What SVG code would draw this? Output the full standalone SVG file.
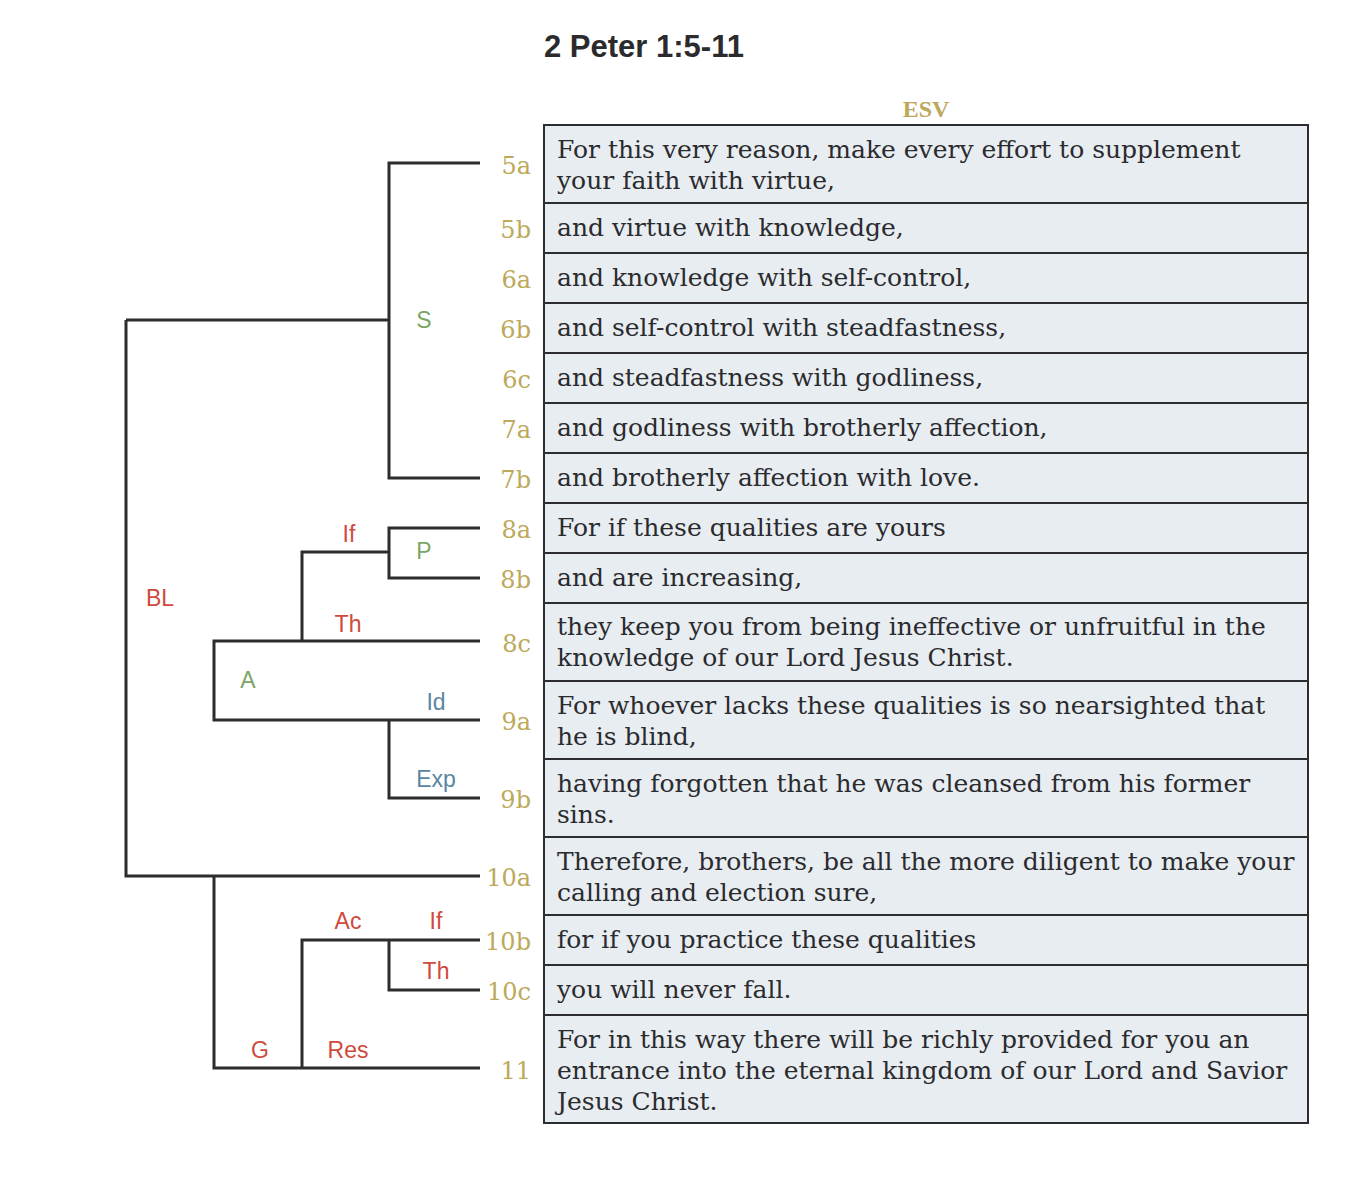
<svg xmlns="http://www.w3.org/2000/svg" width="1370" height="1204" viewBox="0 0 1370 1204">
<style>
.title{font-family:"Liberation Sans",Arial,sans-serif;font-weight:bold;font-size:31px;fill:#2b2b2e}
.esv{font-family:"Liberation Serif","Times New Roman",serif;font-weight:bold;font-size:24px;fill:#bca95b;text-anchor:middle}
.row{fill:#e8edf1;stroke:#2d2d30;stroke-width:2}
.txt{font-family:"DejaVu Serif",Georgia,serif;font-size:25px;fill:#2b2b2e}
.vl{font-family:"DejaVu Serif",Georgia,serif;font-size:24px;fill:#bca95b;text-anchor:end}
.lb{font-family:"Liberation Sans",Arial,sans-serif;font-size:23px;text-anchor:middle}
.r{fill:#cf4a3c}.g{fill:#7ba564}.b{fill:#5a86a2}
.con path{fill:none;stroke:#2d2d30;stroke-width:3;stroke-linejoin:miter;stroke-linecap:butt}
</style>
<text class="title" x="544" y="57">2 Peter 1:5-11</text>
<text class="esv" x="926" y="117">ESV</text>

<g id="connectors" class="con">
<path d="M480,163 H389 V478 H480"/>
<path d="M126,320 H389"/>
<path d="M126,320 V876 H480"/>
<path d="M480,528 H389 V578 H480"/>
<path d="M389,552 H302 V641"/>
<path d="M480,641 H214 V720 H480"/>
<path d="M389,720 V798 H480"/>
<path d="M214,876 V1068 H480"/>
<path d="M302,1068 V940 H480"/>
<path d="M389,940 V990 H480"/>
</g>

<g id="labels">
<text class="lb g" x="424" y="328">S</text>
<text class="lb r" x="349" y="542">If</text>
<text class="lb g" x="424" y="559">P</text>
<text class="lb r" x="348" y="632">Th</text>
<text class="lb r" x="160" y="606">BL</text>
<text class="lb g" x="248" y="688">A</text>
<text class="lb b" x="436" y="710">Id</text>
<text class="lb b" x="436" y="787">Exp</text>
<text class="lb r" x="348" y="929">Ac</text>
<text class="lb r" x="436" y="929">If</text>
<text class="lb r" x="436" y="979">Th</text>
<text class="lb r" x="260" y="1058">G</text>
<text class="lb r" x="348" y="1058">Res</text>
</g>

<g id="v5a"><rect class="row" x="544" y="125" width="764" height="78"/><text class="vl" x="531" y="174">5a</text><text class="txt" x="557" y="158">For this very reason, make every effort to supplement</text><text class="txt" x="557" y="189">your faith with virtue,</text></g>
<g id="v5b"><rect class="row" x="544" y="203" width="764" height="50"/><text class="vl" x="531" y="238">5b</text><text class="txt" x="557" y="236">and virtue with knowledge,</text></g>
<g id="v6a"><rect class="row" x="544" y="253" width="764" height="50"/><text class="vl" x="531" y="288">6a</text><text class="txt" x="557" y="286">and knowledge with self-control,</text></g>
<g id="v6b"><rect class="row" x="544" y="303" width="764" height="50"/><text class="vl" x="531" y="338">6b</text><text class="txt" x="557" y="336">and self-control with steadfastness,</text></g>
<g id="v6c"><rect class="row" x="544" y="353" width="764" height="50"/><text class="vl" x="531" y="388">6c</text><text class="txt" x="557" y="386">and steadfastness with godliness,</text></g>
<g id="v7a"><rect class="row" x="544" y="403" width="764" height="50"/><text class="vl" x="531" y="438">7a</text><text class="txt" x="557" y="436">and godliness with brotherly affection,</text></g>
<g id="v7b"><rect class="row" x="544" y="453" width="764" height="50"/><text class="vl" x="531" y="488">7b</text><text class="txt" x="557" y="486">and brotherly affection with love.</text></g>
<g id="v8a"><rect class="row" x="544" y="503" width="764" height="50"/><text class="vl" x="531" y="538">8a</text><text class="txt" x="557" y="536">For if these qualities are yours</text></g>
<g id="v8b"><rect class="row" x="544" y="553" width="764" height="50"/><text class="vl" x="531" y="588">8b</text><text class="txt" x="557" y="586">and are increasing,</text></g>
<g id="v8c"><rect class="row" x="544" y="603" width="764" height="78"/><text class="vl" x="531" y="652">8c</text><text class="txt" x="557" y="635">they keep you from being ineffective or unfruitful in the</text><text class="txt" x="557" y="666">knowledge of our Lord Jesus Christ.</text></g>
<g id="v9a"><rect class="row" x="544" y="681" width="764" height="78"/><text class="vl" x="531" y="730">9a</text><text class="txt" x="557" y="714">For whoever lacks these qualities is so nearsighted that</text><text class="txt" x="557" y="745">he is blind,</text></g>
<g id="v9b"><rect class="row" x="544" y="759" width="764" height="78"/><text class="vl" x="531" y="808">9b</text><text class="txt" x="557" y="792">having forgotten that he was cleansed from his former</text><text class="txt" x="557" y="823">sins.</text></g>
<g id="v10a"><rect class="row" x="544" y="837" width="764" height="78"/><text class="vl" x="531" y="886">10a</text><text class="txt" x="557" y="870">Therefore, brothers, be all the more diligent to make your</text><text class="txt" x="557" y="901">calling and election sure,</text></g>
<g id="v10b"><rect class="row" x="544" y="915" width="764" height="50"/><text class="vl" x="531" y="950">10b</text><text class="txt" x="557" y="948">for if you practice these qualities</text></g>
<g id="v10c"><rect class="row" x="544" y="965" width="764" height="50"/><text class="vl" x="531" y="1000">10c</text><text class="txt" x="557" y="998">you will never fall.</text></g>
<g id="v11"><rect class="row" x="544" y="1015" width="764" height="108"/><text class="vl" x="531" y="1079">11</text><text class="txt" x="557" y="1048">For in this way there will be richly provided for you an</text><text class="txt" x="557" y="1079">entrance into the eternal kingdom of our Lord and Savior</text><text class="txt" x="557" y="1110">Jesus Christ.</text></g>
</svg>
